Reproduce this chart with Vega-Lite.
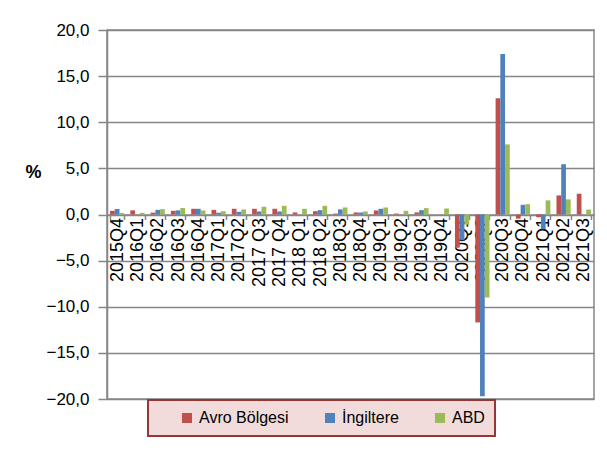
{
  "$schema": "https://vega.github.io/schema/vega-lite/v6.json",
  "width": 487,
  "height": 369,
  "autosize": {"type": "none"},
  "padding": {"left": 107, "top": 30, "right": 13, "bottom": 53},
  "background": "white",
  "config": {
    "font": "Liberation Sans",
    "view": {"stroke": "#868686", "strokeWidth": 1.5},
    "legend": {"strokeWidth": 2}
  },
  "data": {
    "values": [
      {"q": "2015Q4", "s": "Avro Bölgesi", "v": 0.4}, {"q": "2015Q4", "s": "İngiltere", "v": 0.6}, {"q": "2015Q4", "s": "ABD", "v": 0.15},
      {"q": "2016Q1", "s": "Avro Bölgesi", "v": 0.45}, {"q": "2016Q1", "s": "İngiltere", "v": 0}, {"q": "2016Q1", "s": "ABD", "v": 0.18},
      {"q": "2016Q2", "s": "Avro Bölgesi", "v": 0.2}, {"q": "2016Q2", "s": "İngiltere", "v": 0.5}, {"q": "2016Q2", "s": "ABD", "v": 0.58},
      {"q": "2016Q3", "s": "Avro Bölgesi", "v": 0.4}, {"q": "2016Q3", "s": "İngiltere", "v": 0.45}, {"q": "2016Q3", "s": "ABD", "v": 0.7},
      {"q": "2016Q4", "s": "Avro Bölgesi", "v": 0.62}, {"q": "2016Q4", "s": "İngiltere", "v": 0.62}, {"q": "2016Q4", "s": "ABD", "v": 0.44},
      {"q": "2017Q1", "s": "Avro Bölgesi", "v": 0.5}, {"q": "2017Q1", "s": "İngiltere", "v": 0.18}, {"q": "2017Q1", "s": "ABD", "v": 0.36},
      {"q": "2017Q2", "s": "Avro Bölgesi", "v": 0.62}, {"q": "2017Q2", "s": "İngiltere", "v": 0.29}, {"q": "2017Q2", "s": "ABD", "v": 0.55},
      {"q": "2017 Q3", "s": "Avro Bölgesi", "v": 0.62}, {"q": "2017 Q3", "s": "İngiltere", "v": 0.33}, {"q": "2017 Q3", "s": "ABD", "v": 0.84},
      {"q": "2017 Q4", "s": "Avro Bölgesi", "v": 0.62}, {"q": "2017 Q4", "s": "İngiltere", "v": 0.33}, {"q": "2017 Q4", "s": "ABD", "v": 0.94},
      {"q": "2018 Q1", "s": "Avro Bölgesi", "v": 0.22}, {"q": "2018 Q1", "s": "İngiltere", "v": 0}, {"q": "2018 Q1", "s": "ABD", "v": 0.62},
      {"q": "2018 Q2", "s": "Avro Bölgesi", "v": 0.36}, {"q": "2018 Q2", "s": "İngiltere", "v": 0.47}, {"q": "2018 Q2", "s": "ABD", "v": 0.94},
      {"q": "2018Q3", "s": "Avro Bölgesi", "v": 0.1}, {"q": "2018Q3", "s": "İngiltere", "v": 0.55}, {"q": "2018Q3", "s": "ABD", "v": 0.76},
      {"q": "2018Q4", "s": "Avro Bölgesi", "v": 0.22}, {"q": "2018Q4", "s": "İngiltere", "v": 0.22}, {"q": "2018Q4", "s": "ABD", "v": 0.33},
      {"q": "2019Q1", "s": "Avro Bölgesi", "v": 0.44}, {"q": "2019Q1", "s": "İngiltere", "v": 0.62}, {"q": "2019Q1", "s": "ABD", "v": 0.76},
      {"q": "2019Q2", "s": "Avro Bölgesi", "v": 0.1}, {"q": "2019Q2", "s": "İngiltere", "v": 0}, {"q": "2019Q2", "s": "ABD", "v": 0.4},
      {"q": "2019Q3", "s": "Avro Bölgesi", "v": 0.22}, {"q": "2019Q3", "s": "İngiltere", "v": 0.47}, {"q": "2019Q3", "s": "ABD", "v": 0.69},
      {"q": "2019Q4", "s": "Avro Bölgesi", "v": 0}, {"q": "2019Q4", "s": "İngiltere", "v": 0}, {"q": "2019Q4", "s": "ABD", "v": 0.65},
      {"q": "2020Q1", "s": "Avro Bölgesi", "v": -3.6}, {"q": "2020Q1", "s": "İngiltere", "v": -2.8}, {"q": "2020Q1", "s": "ABD", "v": -1.1},
      {"q": "2020Q2", "s": "Avro Bölgesi", "v": -11.7}, {"q": "2020Q2", "s": "İngiltere", "v": -19.7}, {"q": "2020Q2", "s": "ABD", "v": -9.0},
      {"q": "2020Q3", "s": "Avro Bölgesi", "v": 12.6}, {"q": "2020Q3", "s": "İngiltere", "v": 17.4}, {"q": "2020Q3", "s": "ABD", "v": 7.6},
      {"q": "2020Q4", "s": "Avro Bölgesi", "v": -0.45}, {"q": "2020Q4", "s": "İngiltere", "v": 1.05}, {"q": "2020Q4", "s": "ABD", "v": 1.12},
      {"q": "2021Q1", "s": "Avro Bölgesi", "v": -0.3}, {"q": "2021Q1", "s": "İngiltere", "v": -1.6}, {"q": "2021Q1", "s": "ABD", "v": 1.53},
      {"q": "2021Q2", "s": "Avro Bölgesi", "v": 2.07}, {"q": "2021Q2", "s": "İngiltere", "v": 5.45}, {"q": "2021Q2", "s": "ABD", "v": 1.64},
      {"q": "2021Q3", "s": "Avro Bölgesi", "v": 2.25}, {"q": "2021Q3", "s": "İngiltere", "v": 0}, {"q": "2021Q3", "s": "ABD", "v": 0.54}
    ]
  },
  "mark": {"type": "bar"},
  "encoding": {
    "x": {
      "field": "q",
      "type": "nominal",
      "sort": null,
      "scale": {"paddingInner": 0.3, "paddingOuter": 0.15},
      "axis": {
        "title": null,
        "orient": "bottom",
        "offset": -184.5,
        "labelAngle": 270,
        "labelAlign": "right",
        "labelBaseline": "middle",
        "labelFont": "Liberation Sans",
        "labelFontSize": 18,
        "labelColor": "black",
        "labelPadding": -2,
        "tickBand": "extent",
        "tickSize": 5,
        "tickColor": "#868686",
        "tickWidth": 1.5,
        "domainColor": "#868686",
        "domainWidth": 1.5,
        "grid": false,
        "labelOverlap": false
      }
    },
    "xOffset": {
      "field": "s",
      "type": "nominal",
      "sort": ["Avro Bölgesi", "İngiltere", "ABD"]
    },
    "y": {
      "field": "v",
      "type": "quantitative",
      "scale": {"domain": [-20, 20], "nice": false},
      "axis": {
        "title": "%",
        "titleAngle": 0,
        "titleX": -74,
        "titleY": 142,
        "titleAlign": "center",
        "titleBaseline": "middle",
        "titleFont": "Liberation Sans",
        "titleFontSize": 18,
        "titleFontWeight": "bold",
        "titleColor": "black",
        "values": [-20, -15, -10, -5, 0, 5, 10, 15, 20],
        "labelExpr": "replace(format(datum.value, '.1f'), '.', ',')",
        "labelFont": "Liberation Sans",
        "labelFontSize": 17,
        "labelColor": "black",
        "labelPadding": 9,
        "tickSize": 9,
        "tickColor": "#868686",
        "tickWidth": 1.5,
        "domainColor": "#868686",
        "domainWidth": 1.5,
        "grid": true,
        "gridColor": "#868686",
        "gridWidth": 1.5
      }
    },
    "color": {
      "field": "s",
      "type": "nominal",
      "sort": ["Avro Bölgesi", "İngiltere", "ABD"],
      "scale": {
        "domain": ["Avro Bölgesi", "İngiltere", "ABD"],
        "range": ["#c0504d", "#4f81bd", "#9bbb59"]
      },
      "legend": {
        "title": null,
        "orient": "none",
        "direction": "horizontal",
        "legendX": 41,
        "legendY": 370,
        "padding": 10,
        "symbolOffset": 21,
        "fillColor": "#f2dcdb",
        "strokeColor": "#953735",
        "symbolType": "square",
        "symbolSize": 100,
        "symbolStrokeWidth": 0,
        "labelFont": "Liberation Sans",
        "labelFontSize": 16,
        "labelColor": "black",
        "labelOffset": 4,
        "columnPadding": 12
      }
    }
  }
}
